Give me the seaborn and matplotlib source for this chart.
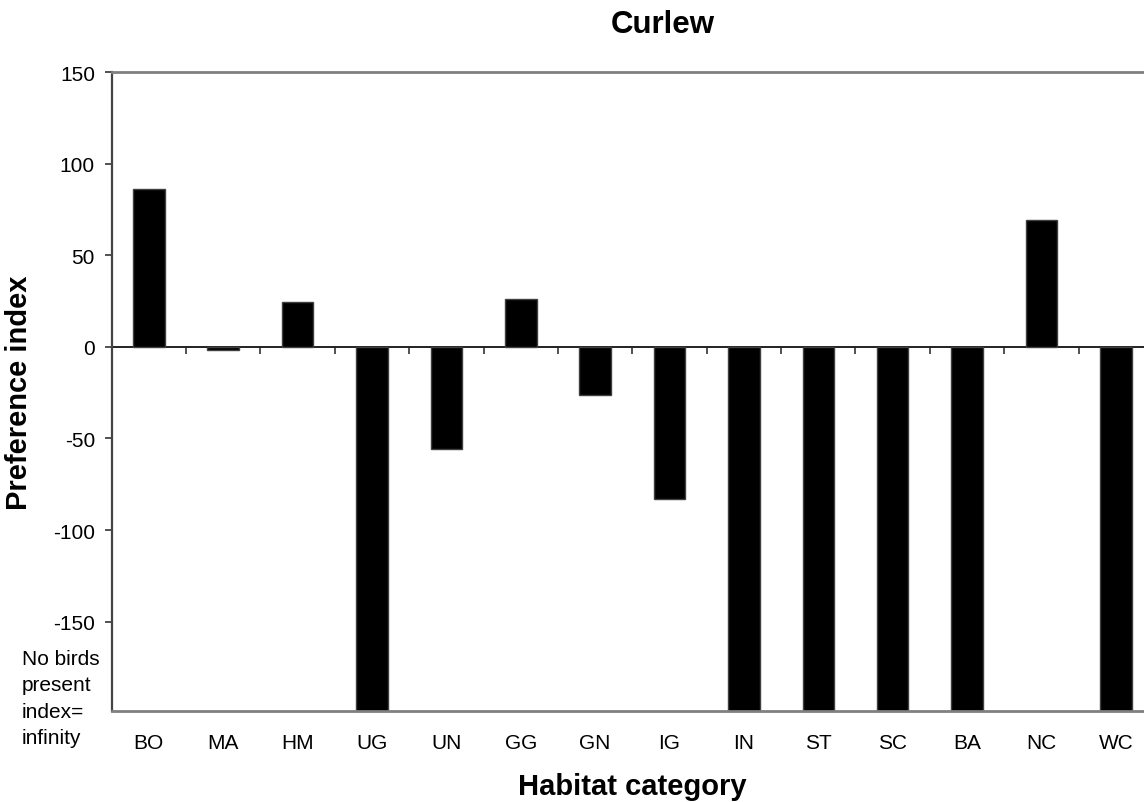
import numpy as np
import matplotlib
matplotlib.use("Agg")
import matplotlib.pyplot as plt
import seaborn as sns

# habitat categories and curlew preference index
categories = ["BO", "MA", "HM", "UG", "UN", "GG", "GN", "IG", "IN", "ST", "SC", "BA", "NC", "WC"]
# -200 = no birds present (index = -infinity), drawn down to the axis floor
pref_index = [86, -1.5, 24.5, -200, -56, 26, -26.5, -83, -200, -200, -200, -200, 69.5, -200]
yticks = [-150, -100, -50, 0, 50, 100, 150]

sns.set_style("white")
plt.rcParams['font.family'] = ['Liberation Sans', 'DejaVu Sans']
plt.rcParams['axes.unicode_minus'] = False
plt.rcParams['text.color'] = 'black'
plt.rcParams['axes.labelcolor'] = 'black'
plt.rcParams['xtick.labelcolor'] = 'black'
plt.rcParams['ytick.labelcolor'] = 'black'

fig = plt.figure(figsize=(11.44, 8.03), dpi=100)
# plot area runs slightly past the right edge, as in the original export
ax = fig.add_axes([0.0976, 0.1130, 0.9103, 0.7957])

sns.barplot(x=categories, y=pref_index, color="black", saturation=1, width=0.425,
            edgecolor="#404040", linewidth=1, ax=ax)

ax.set_ylim(-199, 150)
ax.set_yticks(yticks)
ax.tick_params(axis='y', labelsize=15, direction='out', length=5, width=1.2,
               color='#333333', pad=7, left=True, labelcolor='black')
ax.tick_params(axis='x', labelsize=15, length=0, pad=16, labelcolor='black')

for side in ['top', 'bottom', 'right']:
    ax.spines[side].set_color('#808080')
    ax.spines[side].set_linewidth(2)
ax.spines['left'].set_color('#444444')
ax.spines['left'].set_linewidth(1.6)

# category axis crossing at zero, with tick marks between categories
zero_frac = (0 - ax.get_ylim()[0]) / (ax.get_ylim()[1] - ax.get_ylim()[0])
secax = ax.secondary_xaxis(zero_frac)
secax.set_alignment('bottom')
secax.set_xticks(np.arange(len(categories) - 1) + 0.5)
secax.tick_params(axis='x', direction='out', length=5, width=1.2, color='#333333',
                  labelbottom=False, labeltop=False)
secax.spines['bottom'].set_color('#222222')
secax.spines['bottom'].set_linewidth(1.4)

ax.set_xlabel('Habitat category', fontsize=21, fontweight='bold', color='black')
ax.set_ylabel('Preference index', fontsize=21, fontweight='bold', color='black')
ax.xaxis.set_label_coords(0.5, -0.095)
ax.yaxis.set_label_coords(-0.0755, 0.5)

fig.text(663 / 1144, 1 - 25 / 803, 'Curlew', ha='center', va='center',
         fontsize=22.5, fontweight='bold', color='black')
fig.text(21.7 / 1144, 1 - 699 / 803, 'No birds\npresent\nindex=\ninfinity',
         ha='left', va='center', fontsize=15, linespacing=1.5, color='black')

fig.savefig('out.png', dpi=100)
